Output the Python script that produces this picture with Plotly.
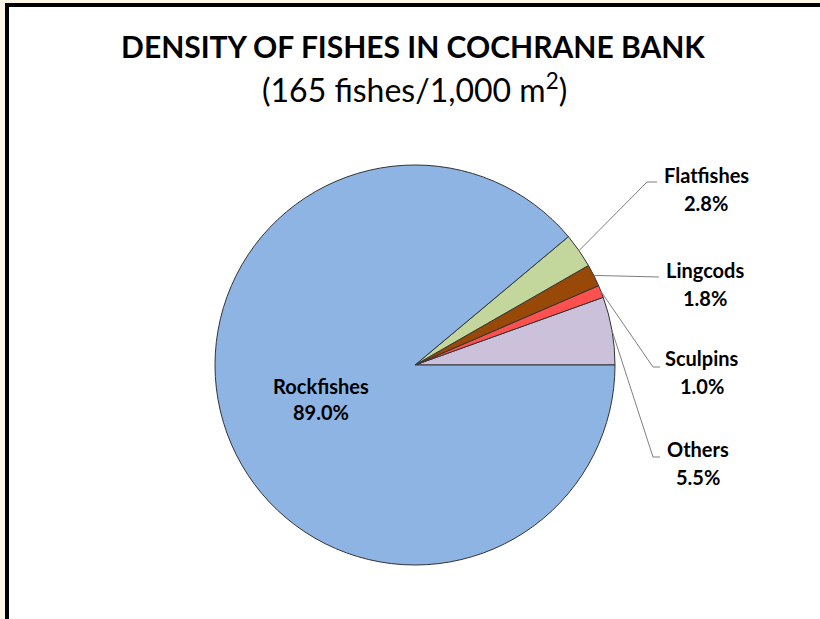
import math
import plotly.graph_objects as go

# ---- data ----
categories = ["Others", "Sculpins", "Lingcods", "Flatfishes", "Rockfishes"]
values = [5.5, 1.0, 1.8, 2.8, 89.0]
colors = ["#CCC1DA", "#FF5050", "#984807", "#C3D69B", "#8EB4E3"]
title_text = "DENSITY OF FISHES IN COCHRANE BANK"
subtitle_text = "(165 fishes/1,000 m<sup>2</sup>)"

W, H = 820, 619
FONT = "Lato"

# pie geometry (pixels)
cx, cy, R = 415, 365, 200
dom_x = [(cx - R) / W, (cx + R) / W]
dom_y = [(H - cy - R) / H, (H - cy + R) / H]

def px(x):
    return x / W

def py(y):
    return 1 - y / H

total = sum(values)
# first slice should start at 3 o'clock and run counterclockwise
rotation = 90 - values[0] / total * 360

texts = [f"<b>{c}</b><br><b>{v:.1f}%</b>" if c == "Rockfishes" else "" for c, v in zip(categories, values)]
textpos = ["inside" if c == "Rockfishes" else "none" for c in categories]

fig = go.Figure(go.Pie(
    labels=categories, values=values, sort=False,
    direction="counterclockwise", rotation=rotation,
    marker=dict(colors=colors, line=dict(color="#333333", width=1)),
    text=texts, textinfo="text", textposition=textpos,
    insidetextorientation="horizontal",
    textfont=dict(family=FONT, size=20, color="black"),
    domain=dict(x=dom_x, y=dom_y),
    showlegend=False, hoverinfo="label+percent",
))

shapes = [
    dict(type="rect", xref="paper", yref="paper", x0=px(7), x1=1.05, y0=-0.05, y1=py(5),
         fillcolor="white", line=dict(color="black", width=4), layer="below"),
]

# label layout for outside labels: elbow point, end point, text centre
label_layout = {
    "Flatfishes": dict(elbow=(647, 182), end=(657, 182), tx=706, ty=175),
    "Lingcods":   dict(elbow=(659, 277), end=(659, 277), tx=705, ty=270),
    "Sculpins":   dict(elbow=(653, 367), end=(660, 367), tx=702, ty=358),
    "Others":     dict(elbow=(653, 457), end=(660, 457), tx=698, ty=449),
}

annotations = []
cum = 0.0
for c, v in zip(categories, values):
    mid = (cum + v / 2) / total * 2 * math.pi
    cum += v
    if c not in label_layout:
        continue
    L = label_layout[c]
    sx = cx + R * math.cos(mid)
    sy = cy - R * math.sin(mid)
    path = f"M {px(sx)},{py(sy)} L {px(L['elbow'][0])},{py(L['elbow'][1])} L {px(L['end'][0])},{py(L['end'][1])}"
    shapes.append(dict(type="path", xref="paper", yref="paper", path=path,
                       line=dict(color="#7f7f7f", width=1)))
    annotations.append(dict(xref="paper", yref="paper", x=px(L["tx"]), y=py(L["ty"]),
                            text=f"<b>{c}</b>", showarrow=False, xanchor="center", yanchor="middle",
                            font=dict(family=FONT, size=20, color="black")))
    annotations.append(dict(xref="paper", yref="paper", x=px(L["tx"]), y=py(L["ty"] + 28),
                            text=f"<b>{v:.1f}%</b>", showarrow=False, xanchor="center", yanchor="middle",
                            font=dict(family=FONT, size=20, color="black")))

annotations.append(dict(xref="paper", yref="paper", x=px(414), y=py(88), text=subtitle_text,
                        showarrow=False, xanchor="center", yanchor="middle",
                        font=dict(family=FONT, size=32, color="black")))

fig.update_layout(
    width=W, height=H,
    margin=dict(l=0, r=0, t=0, b=0),
    paper_bgcolor="#FEF6E6",
    title=dict(text=f"<b>{title_text}</b>", x=px(413), y=py(47), xanchor="center", yanchor="middle",
               font=dict(family=FONT, size=30, color="black")),
    shapes=shapes,
    annotations=annotations,
)

fig.write_html("out.html", config={"displayModeBar": False},
               post_script="document.body.style.margin='0px';document.body.style.background='#FEF6E6';")
